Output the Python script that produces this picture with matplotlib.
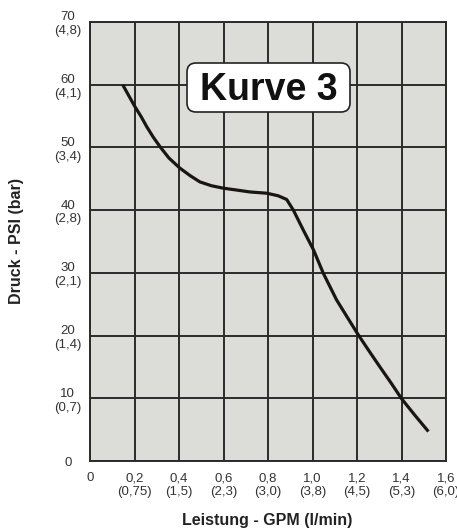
import matplotlib
matplotlib.use("Agg")
import matplotlib.pyplot as plt
from matplotlib.patches import FancyBboxPatch
from matplotlib.transforms import IdentityTransform

# Data
gpm = [0.147, 0.175, 0.202, 0.230, 0.255, 0.285, 0.315, 0.355, 0.404, 0.450,
       0.494, 0.545, 0.599, 0.660, 0.719, 0.794, 0.845, 0.884, 0.914, 0.959,
       1.004, 1.049, 1.108, 1.155, 1.206, 1.255, 1.303, 1.352, 1.401, 1.460, 1.521]
psi = [60.0, 58.2, 56.5, 54.9, 53.3, 51.6, 50.1, 48.3, 46.7, 45.5,
       44.5, 43.9, 43.5, 43.2, 42.9, 42.7, 42.3, 41.7, 40.0, 36.8,
       33.7, 29.9, 25.7, 23.0, 20.1, 17.5, 15.0, 12.5, 9.9, 7.3, 4.7]

x_ticks = [0, 0.2, 0.4, 0.6, 0.8, 1.0, 1.2, 1.4, 1.6]
x_labels = ["0", "0,2\n(0,75)", "0,4\n(1,5)", "0,6\n(2,3)", "0,8\n(3,0)",
            "1,0\n(3,8)", "1,2\n(4,5)", "1,4\n(5,3)", "1,6\n(6,0)"]
y_ticks = [0, 10, 20, 30, 40, 50, 60, 70]
y_labels = ["0", "10\n(0,7)", "20\n(1,4)", "30\n(2,1)", "40\n(2,8)",
            "50\n(3,4)", "60\n(4,1)", "70\n(4,8)"]

plt.rcParams['font.family'] = ['Liberation Sans', 'DejaVu Sans']

W, H = 457, 529
fig = plt.figure(figsize=(W / 100, H / 100), dpi=100)
ax = fig.add_axes([90 / W, 1 - 461 / H, (446 - 90) / W, (461 - 22) / H])
ax.set_facecolor('#dcdcd8')

ax.set_xlim(0, 1.6)
ax.set_ylim(0, 70)
for xv in x_ticks:
    ax.axvline(xv, color='#2b2b2b', lw=1.4, zorder=1)
for yv in y_ticks:
    ax.axhline(yv, color='#2b2b2b', lw=1.4, zorder=1)
for s in ax.spines.values():
    s.set_color('#2b2b2b')
    s.set_linewidth(1.4)

ax.plot(gpm, psi, color='#1a1512', lw=2.3, zorder=3, solid_capstyle='butt',
        solid_joinstyle='round')

ax.set_xticks(x_ticks)
ax.set_xticklabels(x_labels, fontsize=9.5, color='#333333', linespacing=1.2)
ax.set_yticks(y_ticks)
ax.set_yticklabels(y_labels, fontsize=9.5, color='#333333', linespacing=1.2,
                   ha='center')
ax.tick_params(axis='both', length=0)
ax.tick_params(axis='x', pad=8)
ax.tick_params(axis='y', pad=16)

# label box (pixel-positioned decoration)
box = FancyBboxPatch((187, H - 112), 163, 49,
                     boxstyle='round,pad=0,rounding_size=9',
                     transform=IdentityTransform(), fc='white', ec='#222222',
                     lw=1.2, zorder=5)
fig.patches.append(box)
fig.text(268.5 / W, 1 - 86 / H, "Kurve 3", fontsize=27, fontweight='bold',
         color='#111111', ha='center', va='center_baseline', zorder=6)

fig.text(267 / W, 1 - 520 / H, "Leistung - GPM (l/min)", fontsize=11.5,
         fontweight='bold', color='#222222', ha='center', va='center')
fig.text(17 / W, 1 - 241 / H, "Druck - PSI (bar)", fontsize=11.5,
         fontweight='bold', color='#222222', ha='center', va='center',
         rotation=90)

fig.savefig("out.png", dpi=100)
